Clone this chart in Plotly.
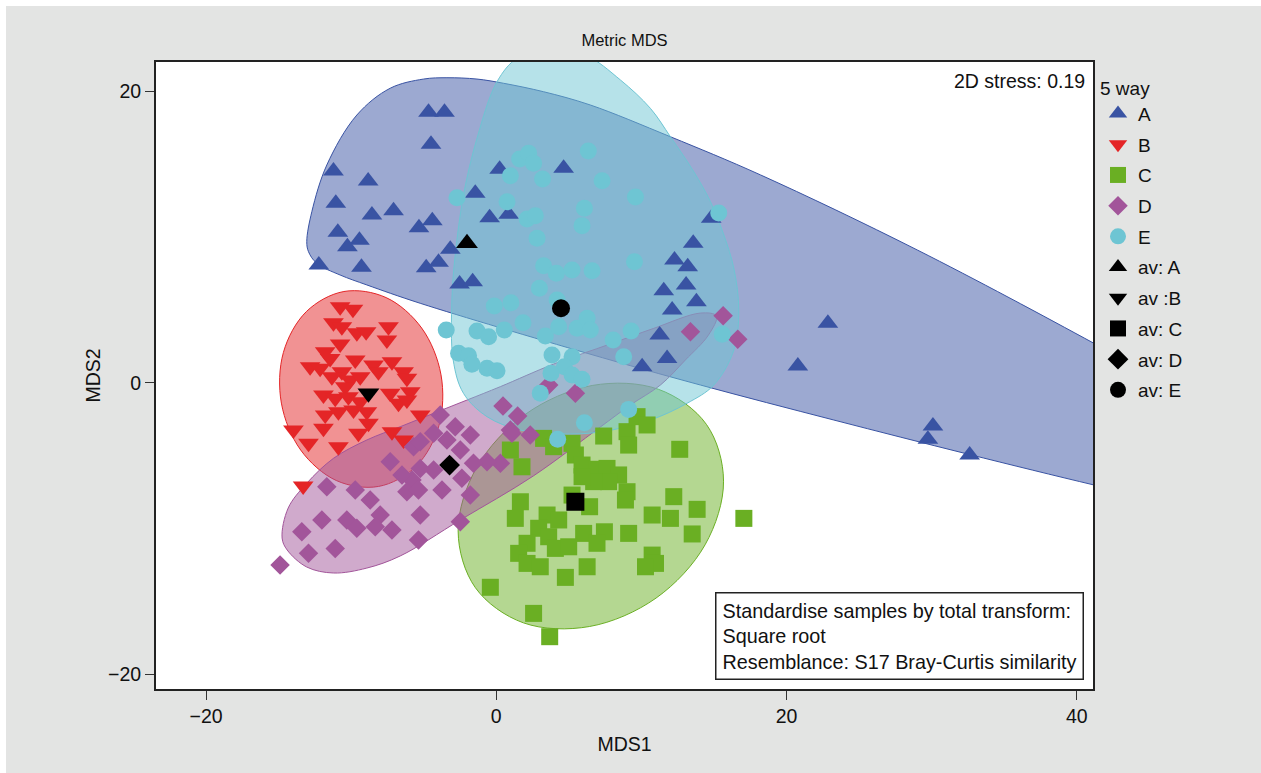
import plotly.graph_objects as go

# ---------------- sample scores on the two MDS axes ----------------
A_x = [-4.67, -3.57, -4.50, -11.22, -8.83, -11.06, -8.57, -7.08, -4.41, -5.33,
       -10.92, -9.43, -10.26, -12.23, -9.29, -4.83, -3.98, -3.17, -2.53, -1.63,
       0.23, 4.64, -1.45, -0.46, 0.85, 14.81, 13.57, 12.28, 13.19, 13.08,
       11.54, 13.79, 12.12, 11.26, 11.77, 10.05, 22.85, 20.78, 30.09, 29.74, 32.62]
A_y = [18.56, 18.56, 16.36, 14.53, 13.84, 12.31, 11.51, 11.81, 11.12, 10.64,
       10.32, 9.77, 9.33, 8.08, 7.92, 7.89, 8.26, 9.16, 6.77, 6.93,
       14.65, 14.72, 13.0, 11.32, 11.56, 11.28, 9.57, 8.42, 7.96, 6.71,
       6.31, 5.56, 4.99, 3.27, 1.67, 1.10, 4.08, 1.15, -2.97, -3.88, -4.96]

B_x = [-10.76, -9.88, -11.22, -10.64, -9.61, -8.97, -7.43, -7.54, -10.76, -11.79,
       -11.45, -12.83, -12.14, -9.72, -8.46, -7.19, -10.64, -11.33, -10.07, -9.38,
       -8.12, -6.39, -6.16, -10.41, -11.91, -11.10, -10.19, -9.38, -7.31, -6.74,
       -5.93, -6.16, -11.79, -10.88, -9.84, -8.92, -13.98, -12.94, -11.91, -10.88,
       -9.50, -8.81, -7.19, -6.39, -5.24, -13.31]
B_y = [5.22, 5.04, 4.12, 3.84, 3.43, 3.50, 3.84, 2.93, 2.66, 2.13,
       1.67, 1.10, 0.99, 1.56, 1.21, 1.44, 0.75, 0.41, 0.19, 0.41,
       0.75, 0.75, 0.30, -0.27, -0.84, -1.07, -0.96, -1.30, -0.73, -1.41,
       -0.62, -1.19, -2.22, -1.99, -1.87, -1.99, -3.25, -4.16, -3.13, -4.39,
       -3.47, -2.79, -3.36, -3.93, -2.22, -7.09]

C_x = [7.40, 9.01, 9.70, 10.39, 9.12, 12.64, 5.22, 5.45, 5.91, 6.94,
       7.63, 8.43, 7.74, 6.71, 5.91, 9.01, 8.90, 6.43, 5.22, 1.66,
       1.31, 3.50, 4.30, 12.23, 10.74, 12.00, 13.84, 17.06, 7.45, 6.02,
       9.12, 13.50, 2.92, 3.61, 2.12, 4.07, 4.99, 6.94, 1.54, 2.12,
       3.03, 6.26, 4.76, 10.74, 10.97, 10.28, -0.41, 2.57, 3.68, 0.97,
       1.77, 3.26, 3.95]
C_y = [-3.66, -3.36, -2.33, -2.90, -4.28, -4.57, -4.16, -4.96, -5.65, -5.94,
       -5.88, -6.33, -6.79, -6.79, -6.45, -7.48, -8.05, -8.51, -7.71, -8.17,
       -9.31, -9.08, -9.42, -7.82, -9.08, -9.31, -8.69, -9.31, -10.23, -10.34,
       -10.34, -10.38, -9.99, -10.57, -11.02, -11.37, -11.26, -11.02, -11.71, -12.40,
       -12.63, -12.63, -13.36, -11.83, -12.40, -12.63, -14.04, -15.83, -17.43, -4.62,
       -5.77, -3.82, -4.39]

D_x = [0.46, -3.86, -2.83, -1.79, -4.32, -5.70, -5.24, -2.48, -3.40, 0.97,
       0.28, -0.64, -1.57, -2.37, -1.79, -3.74, -4.32, -5.24, -5.81, -7.31,
       -6.50, -6.16, -5.36, -11.68, -9.72, -8.69, -8.00, -12.02, -10.30, -9.61,
       -8.34, -7.19, -5.24, -13.40, -11.10, -12.94, -5.36, -2.48, -14.90, 15.63,
       13.38, 16.64, 3.61, 5.45, 1.47, 1.08, 2.34]
D_y = [-1.60, -2.22, -3.02, -3.59, -3.47, -4.39, -4.05, -4.62, -3.93, -3.25,
       -5.53, -5.42, -5.53, -6.56, -7.71, -7.36, -5.99, -5.88, -6.68, -5.42,
       -6.33, -7.48, -7.36, -7.14, -7.36, -8.05, -9.08, -9.42, -9.42, -9.99,
       -9.88, -10.11, -9.08, -10.23, -11.37, -11.71, -10.80, -9.54, -12.51, 4.60,
       3.50, 2.98, -0.16, -0.73, -2.29, -3.47, -3.59]

E_x = [-2.71, 1.61, 2.23, 2.57, 0.97, 3.19, 0.74, 2.12, 2.69, 2.81,
       5.91, 6.34, 7.29, 9.59, 6.07, 15.33, 9.52, 3.26, 4.14, 5.22,
       6.60, 2.97, -0.14, 1.01, 4.19, 1.84, 0.55, -3.45, -1.33, -0.53,
       3.38, 4.30, 5.57, 6.26, 6.48, 9.29, 8.05, 15.57, -2.60, -1.91,
       -1.68, -0.64, 0.05, 3.84, 5.22, 8.78, 4.69, 3.77, 5.22, 5.91,
       3.03, 9.12, 6.07, 4.23]
E_y = [12.70, 15.35, 15.74, 15.06, 14.21, 13.98, 12.42, 11.24, 11.46, 9.91,
       10.78, 15.90, 13.86, 12.75, 11.97, 11.65, 8.30, 8.03, 7.51, 7.74,
       7.69, 6.48, 5.26, 5.49, 5.68, 4.12, 3.62, 3.62, 3.55, 3.16,
       3.21, 3.84, 3.73, 4.42, 3.62, 3.55, 2.93, 3.32, 2.02, 1.85,
       1.26, 0.99, 0.82, 1.90, 1.78, 1.78, 1.10, 0.65, 0.53, 0.23,
       -0.73, -1.83, -2.75, -3.88]

# group averages
AV_NAMES = ["av: A", "av :B", "av: C", "av: D", "av: E"]
AV_X = [-2.02, -8.81, 5.45, -3.22, 4.46]
AV_Y = [9.57, -0.73, -8.17, -5.65, 5.11]

# ---------------- group region outlines (vertices, smoothed) ----------------
A_REG_X = [-13.06, -12.71, -11.68, -9.61, -7.31, -5.01, -3.40, -1.33, 0.50, 3.26,
           6.48, 12.00, 18.21, 29.01, 41.19, 47.17, 52.69, 47.17, 41.19, 32.46,
           23.26, 14.07, 6.26, -5.24, -8.92, -10.76, -12.37, -12.94]
A_REG_Y = [9.68, 11.74, 14.94, 18.37, 20.21, 20.84, 20.93, 20.84, 20.55, 19.97,
           19.06, 16.88, 14.26, 9.11, 2.70, -0.64, -4.96, -8.39, -7.02, -4.89,
           -2.56, -0.16, 2.02, 5.45, 6.71, 7.39, 8.19, 8.99]

B_REG_X = [-10.50, -7.59, -5.14, -3.81, -3.95, -5.53, -8.12, -11.03, -13.48, -14.81,
           -14.67, -13.09]
B_REG_Y = [6.26, 5.84, 3.75, 0.54, -2.94, -5.74, -7.12, -6.71, -4.62, -1.40,
           2.08, 4.88]

C_REG_X = [14.48, 15.66, 14.39, 11.01, 6.43, 1.87, -1.44, -2.63, -1.35, 2.03,
           6.61, 11.17]
C_REG_Y = [-2.86, -6.76, -11.12, -14.78, -16.73, -16.48, -14.07, -10.17, -5.81, -2.15,
           -0.19, -0.45]

D_REG_X = [-14.76, -14.34, -13.06, -11.22, -8.92, -6.62, -4.32, -2.02, 0.28, 3.95,
           7.86, 10.85, 14.07, 15.17, 14.62, 13.03, 11.31, 9.24, 7.17, 2.55,
           -2.48, -6.62, -8.92, -11.22, -13.06, -14.41]
D_REG_Y = [-10.66, -8.60, -6.90, -5.19, -3.93, -3.02, -2.10, -1.19, -0.27, 1.28,
           2.66, 3.73, 4.78, 4.58, 3.27, 1.56, -0.16, -1.53, -3.04, -6.40,
           -9.42, -11.89, -12.72, -13.06, -12.65, -11.48]

E_REG_X = [3.59, 6.14, 8.55, 10.62, 12.00, 13.61, 14.76, 15.68, 16.37, 16.71,
           16.37, 14.99, 13.15, 10.62, 7.17, 4.41, 1.66, -0.64, -2.26, -2.97,
           -3.06, -2.83, -2.26, -1.33, 0.05, 1.45]
E_REG_Y = [22.97, 22.49, 20.78, 18.83, 16.88, 14.48, 12.42, 10.14, 7.85, 4.99,
           2.24, -0.16, -1.41, -2.56, -3.38, -3.52, -3.25, -2.33, -0.73, 1.56,
           5.68, 8.76, 12.88, 16.77, 20.66, 22.29]

# ---------------- styling ----------------
GROUPS = ["A", "B", "C", "D", "E"]
COLORS = ["#3953a3", "#e42527", "#6aaf23", "#a2559a", "#6ec5d3"]
FILLS = ["rgba(57,83,163,0.5)", "rgba(228,37,39,0.5)", "rgba(106,175,35,0.5)",
         "rgba(162,85,154,0.5)", "rgba(110,197,211,0.5)"]
SYMBOLS = ["triangle-up", "triangle-down", "square", "diamond", "circle"]
SIZES = [18, 18, 17, 15, 17]

FONT = "Liberation Sans, Arial, sans-serif"
BG = "#e3e4e3"
INK = "#111111"

points = [(A_x, A_y), (B_x, B_y), (C_x, C_y), (D_x, D_y), (E_x, E_y)]
regions = [(A_REG_X, A_REG_Y), (B_REG_X, B_REG_Y), (C_REG_X, C_REG_Y),
           (D_REG_X, D_REG_Y), (E_REG_X, E_REG_Y)]

fig = go.Figure()

# filled group regions first, so every marker sits on top of them
for (rx, ry), col, fill in zip(regions, COLORS, FILLS):
    fig.add_trace(go.Scatter(
        x=list(rx) + [rx[0]], y=list(ry) + [ry[0]],
        mode="lines", fill="toself", fillcolor=fill,
        line=dict(color=col, width=1, shape="spline", smoothing=1),
        hoverinfo="skip", showlegend=False,
    ))

for i, ((px, py), name) in enumerate(zip(points, GROUPS)):
    fig.add_trace(go.Scatter(
        x=px, y=py, mode="markers", name=name, legendgroup=name,
        marker=dict(symbol=SYMBOLS[i], size=SIZES[i], color=COLORS[i],
                    line=dict(width=0)),
    ))

for i, name in enumerate(AV_NAMES):
    fig.add_trace(go.Scatter(
        x=[AV_X[i]], y=[AV_Y[i]], mode="markers", name=name, legendgroup=name,
        marker=dict(symbol=SYMBOLS[i], size=SIZES[i] + 1, color="black",
                    line=dict(width=0)),
    ))

axis_common = dict(
    showline=True, mirror=True, linecolor="#222222", linewidth=2,
    ticks="outside", ticklen=9, tickwidth=1, tickcolor="#333333",
    showgrid=False, zeroline=False,
    tickfont=dict(family=FONT, size=19.5, color=INK),
)

fig.update_layout(
    width=1261, height=773,
    margin=dict(l=156, r=168, t=62, b=84),
    paper_bgcolor=BG, plot_bgcolor="white",
    font=dict(family=FONT, color=INK),
    title=dict(text="Metric MDS", x=0.5, xref="paper", xanchor="center",
               y=1 - 40 / 773, yref="container", yanchor="middle",
               font=dict(family=FONT, size=16.5, color=INK)),
    xaxis=dict(range=[-23.45, 41.12], tickvals=[-20, 0, 20, 40],
               title=dict(text="MDS1", standoff=11,
                          font=dict(family=FONT, size=19.5, color=INK)),
               **axis_common),
    yaxis=dict(range=[-21.02, 22.01], tickvals=[-20, 0, 20],
               title=dict(text="MDS2", standoff=2,
                          font=dict(family=FONT, size=19.5, color=INK)),
               **axis_common),
    legend=dict(
        title=dict(text="5 way", font=dict(family=FONT, size=19, color=INK)),
        font=dict(family=FONT, size=19, color=INK),
        x=1.0 + 5 / 937, xref="paper", xanchor="left",
        y=1.0 - 8 / 627, yanchor="top",
        bgcolor="rgba(0,0,0,0)", traceorder="grouped", tracegroupgap=3,
        itemclick=False, itemdoubleclick=False,
    ),
    annotations=[
        dict(text="2D stress: 0.19", xref="paper", yref="paper", x=1, y=1,
             xanchor="right", yanchor="middle", xshift=-6, yshift=-19,
             showarrow=False, font=dict(family=FONT, size=19.5, color=INK)),
        dict(text="Standardise samples by total transform:<br>Square root<br>"
                  "Resemblance: S17 Bray-Curtis similarity",
             xref="paper", yref="paper", x=1, y=0, xanchor="right", yanchor="bottom",
             xshift=-9, yshift=9, align="left", showarrow=False,
             bordercolor="#222222", borderwidth=1.5, borderpad=6, bgcolor="white",
             font=dict(family=FONT, size=19.8, color=INK)),
    ],
    shapes=[
        # thin white frame along the top and left edges of the page
        dict(type="rect", xref="paper", yref="paper", x0=-0.3, x1=1.3,
             y0=(689 - 6) / 627, y1=1.3, fillcolor="white", line=dict(width=0),
             layer="below"),
        dict(type="rect", xref="paper", yref="paper", x0=-0.3, x1=(6 - 156) / 937,
             y0=-0.3, y1=1.3, fillcolor="white", line=dict(width=0), layer="below"),
    ],
)

fig.write_html("out.html")
